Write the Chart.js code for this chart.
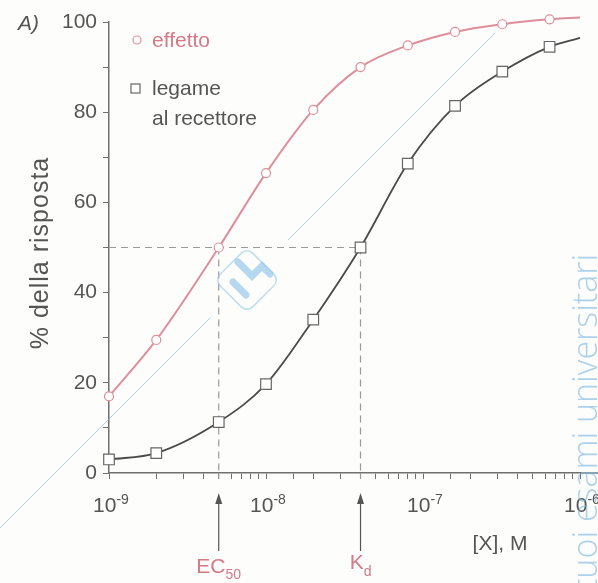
<!DOCTYPE html>
<html>
<head>
<meta charset="utf-8">
<script src="https://cdn.jsdelivr.net/npm/chart.js@4.4.1/dist/chart.umd.min.js"></script>
<style>
  body { margin: 0; background: #fdfdfb; }
</style>
</head>
<body>
<canvas id="myChart" width="598" height="583"></canvas>
<script>
// concentrazioni (M) e risposte
const concentrations = [1e-9, 2e-9, 5e-9, 1e-8, 2e-8, 4e-8, 8e-8, 1.6e-7, 3.2e-7, 6.4e-7];
const effetto = [17, 29.5, 50, 66.5, 80.5, 90, 94.8, 97.8, 99.5, 100.6];
const legame = [3, 4.4, 11.3, 19.7, 34, 50, 68.6, 81.4, 89, 94.5];
// dove finiscono le curve a destra (senza simbolo)
const curveEndX = 1e-6;
const effettoEnd = 101;
const legameEnd = 96.5;

const EC50 = 5e-9;
const Kd = 4e-8;
const halfResponse = 50;

const yTicks = [0, 20, 40, 60, 80, 100];
const xDecades = [-9, -8, -7, -6];

const FONT = '"Liberation Sans", Arial, sans-serif';
const PINK = "#dd8f9b";
const PINK_TEXT = "#d27a88";
const DARK = "#4a4a4a";
const AXIS = "#707070";
const TEXT = "#555";
const WATERMARK = "rgba(120,180,225,0.6)";

function series(values, end) {
  let pts = concentrations.map((c, i) => ({ x: c, y: values[i] }));
  pts.push({ x: curveEndX, y: end });
  return pts;
}
const markerRadius = concentrations.map(() => 1).concat([0]);

// testo con pedice/apice centrato su cx
function drawSub(ctx, main, small, cx, y, dy) {
  ctx.font = "21px " + FONT;
  const w1 = ctx.measureText(main).width;
  ctx.font = "14px " + FONT;
  const w2 = ctx.measureText(small).width;
  const sx = cx - (w1 + w2) / 2;
  ctx.font = "21px " + FONT;
  ctx.fillText(main, sx, y);
  ctx.font = "14px " + FONT;
  ctx.fillText(small, sx + w1, y + dy);
}

const annotations = {
  id: "annotations",
  afterDraw(chart) {
    const { ctx, scales: { x, y } } = chart;
    ctx.save();

    // prolungamento dell'asse x
    ctx.strokeStyle = AXIS;
    ctx.lineWidth = 1.5;
    ctx.beginPath();
    ctx.moveTo(x.right, y.bottom);
    ctx.lineTo(598, y.bottom);
    ctx.stroke();

    // etichette asse x: 10^n
    ctx.fillStyle = TEXT;
    ctx.textAlign = "left";
    ctx.textBaseline = "alphabetic";
    xDecades.forEach((e) => {
      drawSub(ctx, "10", "-" + Math.abs(e), x.getPixelForValue(Math.pow(10, e)) + 2, 512, -8);
    });

    // tratteggi sotto l'asse e frecce
    [EC50, Kd].forEach((v) => {
      const px = x.getPixelForValue(v);
      ctx.strokeStyle = "#9a9a9a";
      ctx.lineWidth = 1.2;
      ctx.setLineDash([6, 5]);
      ctx.beginPath();
      ctx.moveTo(px, y.bottom);
      ctx.lineTo(px, y.bottom + 10);
      ctx.stroke();
      ctx.setLineDash([]);
      ctx.strokeStyle = "#555";
      ctx.fillStyle = "#555";
      ctx.lineWidth = 1.2;
      ctx.beginPath();
      ctx.moveTo(px, y.bottom + 28);
      ctx.lineTo(px, y.bottom + 78);
      ctx.stroke();
      ctx.beginPath();
      ctx.moveTo(px, y.bottom + 20);
      ctx.lineTo(px - 3.5, y.bottom + 31);
      ctx.lineTo(px + 3.5, y.bottom + 31);
      ctx.closePath();
      ctx.fill();
    });

    // EC50 e Kd
    ctx.fillStyle = PINK_TEXT;
    drawSub(ctx, "EC", "50", x.getPixelForValue(EC50), 573, 6);
    drawSub(ctx, "K", "d", x.getPixelForValue(Kd), 569, 7);

    // titolo asse x
    ctx.fillStyle = TEXT;
    ctx.font = "21px " + FONT;
    ctx.textAlign = "center";
    ctx.textBaseline = "middle";
    ctx.fillText("[X], M", 500, 544);

    // titolo asse y
    ctx.save();
    ctx.translate(41, 253);
    ctx.rotate(-Math.PI / 2);
    ctx.font = "25px " + FONT;
    ctx.letterSpacing = "1px";
    ctx.fillText("% della risposta", 0, 0);
    ctx.restore();

    // A)
    ctx.font = "italic 21px " + FONT;
    ctx.textAlign = "left";
    ctx.fillText("A)", 18, 24);

    // legenda
    ctx.font = "21px " + FONT;
    ctx.fillStyle = "#fff";
    ctx.strokeStyle = PINK;
    ctx.lineWidth = 1.2;
    ctx.beginPath();
    ctx.arc(137, 40, 4, 0, Math.PI * 2);
    ctx.fill();
    ctx.stroke();
    ctx.fillStyle = PINK_TEXT;
    ctx.fillText("effetto", 152, 41);
    ctx.strokeStyle = "#666";
    ctx.fillStyle = "#fff";
    ctx.fillRect(131, 84, 9, 9);
    ctx.strokeRect(131, 84, 9, 9);
    ctx.fillStyle = TEXT;
    ctx.fillText("legame", 152, 89);
    ctx.fillText("al recettore", 152, 119);

    // filigrana
    ctx.strokeStyle = WATERMARK;
    ctx.lineWidth = 1;
    ctx.beginPath();
    ctx.moveTo(0, 528);
    ctx.lineTo(210, 318);
    ctx.moveTo(288, 240);
    ctx.lineTo(495, 33);
    ctx.stroke();

    // logo
    ctx.save();
    ctx.translate(247, 280);
    ctx.rotate(Math.PI / 4);
    ctx.strokeStyle = "rgba(150,200,235,0.6)";
    ctx.lineWidth = 1.5;
    ctx.beginPath();
    ctx.roundRect(-23, -23, 46, 46, 8);
    ctx.stroke();
    ctx.restore();
    ctx.strokeStyle = "rgba(150,200,235,0.7)";
    ctx.lineWidth = 7;
    ctx.lineCap = "round";
    ctx.beginPath();
    ctx.moveTo(233, 282);
    ctx.lineTo(246, 295);
    ctx.moveTo(238, 262);
    ctx.lineTo(252, 276);
    ctx.lineTo(262, 266);
    ctx.lineTo(270, 274);
    ctx.stroke();

    ctx.save();
    ctx.translate(587, 590);
    ctx.rotate(-Math.PI / 2);
    ctx.fillStyle = WATERMARK;
    ctx.font = "300 34px 'Open Sans', sans-serif";
    ctx.textAlign = "left";
    ctx.textBaseline = "middle";
    ctx.fillText("tuoi esami universitari", 0, 0);
    ctx.restore();

    ctx.restore();
  },
};

let myChart = document.querySelector("#myChart").getContext("2d");

new Chart(myChart, {
  type: "line",
  data: {
    datasets: [
      {
        label: "effetto",
        data: series(effetto, effettoEnd),
        borderColor: PINK,
        borderWidth: 2,
        backgroundColor: "#fff",
        pointStyle: "circle",
        pointRadius: markerRadius.map((r) => r * 4.5),
        pointBorderColor: PINK,
        pointBorderWidth: 1.2,
        cubicInterpolationMode: "monotone",
        clip: false,
      },
      {
        label: "legame al recettore",
        data: series(legame, legameEnd),
        borderColor: DARK,
        borderWidth: 1.8,
        backgroundColor: "#fff",
        pointStyle: "rect",
        pointRadius: markerRadius.map((r) => r * 7.5),
        pointBorderColor: "#666",
        pointBorderWidth: 1.2,
        cubicInterpolationMode: "monotone",
        clip: false,
      },
      // linee tratteggiate a 50%
      {
        data: [{ x: concentrations[0], y: halfResponse }, { x: Kd, y: halfResponse }],
        borderColor: "#9a9a9a",
        borderWidth: 1.2,
        borderDash: [7, 5],
        pointRadius: 0,
      },
      {
        data: [{ x: EC50, y: halfResponse }, { x: EC50, y: 0 }],
        borderColor: "#9a9a9a",
        borderWidth: 1.2,
        borderDash: [7, 5],
        pointRadius: 0,
      },
      {
        data: [{ x: Kd, y: halfResponse }, { x: Kd, y: 0 }],
        borderColor: "#9a9a9a",
        borderWidth: 1.2,
        borderDash: [7, 5],
        pointRadius: 0,
      },
    ],
  },
  options: {
    responsive: false,
    animation: false,
    events: [],
    layout: { padding: { top: 22, right: 18, left: 0, bottom: 0 } },
    plugins: {
      legend: { display: false },
      tooltip: { enabled: false },
    },
    scales: {
      x: {
        type: "logarithmic",
        min: 1e-9,
        max: 1e-6,
        afterFit: (scale) => { scale.height = 110; },
        border: { color: AXIS, width: 1.5 },
        grid: { drawOnChartArea: false, drawTicks: true, tickLength: 6, color: AXIS, lineWidth: 1 },
        ticks: { display: false, autoSkip: false, maxRotation: 0 },
      },
      y: {
        min: 0,
        max: 100,
        afterFit: (scale) => { scale.width = 109; },
        border: { color: AXIS, width: 1.5 },
        grid: { drawOnChartArea: false, drawTicks: true, tickLength: 6, color: AXIS, lineWidth: 1 },
        ticks: {
          stepSize: 10,
          padding: 6,
          color: TEXT,
          font: { family: FONT, size: 21 },
          callback: (value) => (yTicks.includes(value) ? value : ""),
        },
      },
    },
  },
  plugins: [annotations],
});
</script>
</body>
</html>
